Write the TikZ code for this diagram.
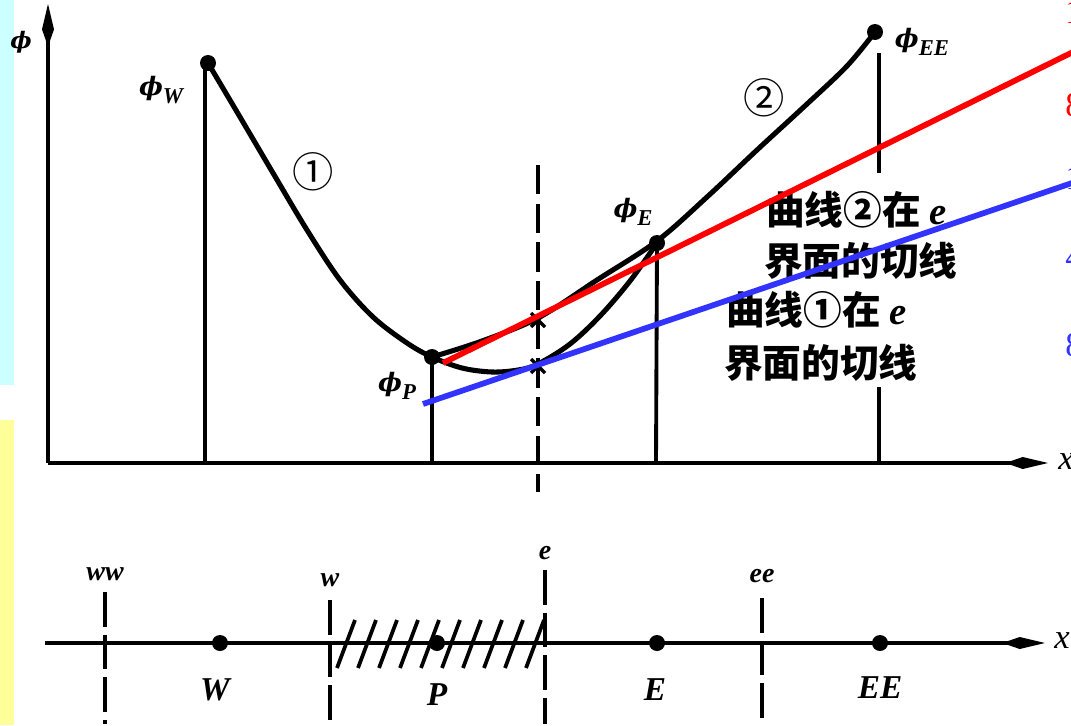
\documentclass[tikz,border=0pt]{standalone}
\usepackage{fontspec}
\setmainfont{Liberation Serif}
\newfontfamily\cjk{Noto Sans CJK SC}
\newfontfamily\phifont{DejaVu Serif}
\usetikzlibrary{arrows.meta}
\definecolor{stripcyan}{RGB}{204,255,255}
\definecolor{stripyellow}{RGB}{255,255,153}
\definecolor{tanred}{RGB}{255,0,0}
\definecolor{tanblue}{RGB}{51,51,255}
\newcommand{\phiLab}[1]{{\phifont\bfseries\itshape ϕ}\raisebox{-0.3em}{\fontsize{17}{17}\selectfont\bfseries\itshape #1}}
\tikzset{
  curve/.style={line width=3.8pt, line cap=round, line join=round},
  stem/.style={line width=2.9pt},
  axisarrow/.style={line width=3pt, -{Kite[length=32pt,width=9pt,inset=13pt]}},
  gridline/.style={line width=2.8pt, dash pattern=on 26pt off 6pt},
  dot/.style={circle, fill=black, inner sep=0pt, minimum size=12pt},
  philabel/.style={font=\fontsize{19}{19}\selectfont, inner sep=0pt},
  ptlabel/.style={font=\fontsize{25}{25}\selectfont\bfseries\itshape, inner sep=0pt},
  facelabel/.style={font=\fontsize{21}{21}\selectfont\bfseries\itshape, inner sep=0pt},
  circnum/.style={font=\cjk\fontsize{31}{31}\selectfont, inner sep=0pt},
  cjktext/.style={font=\cjk\bfseries\fontsize{29}{29}\selectfont, inner sep=0pt, anchor=west},
  tangent/.style={line width=4.3pt},
  edgeglyph/.style={font=\fontsize{26}{26}\selectfont, inner sep=0pt, anchor=west},
}
\begin{document}
\begin{tikzpicture}[x=0.75pt,y=-0.75pt]
\useasboundingbox (0,0) rectangle (1071,725);
\clip (0,0) rectangle (1071,725);
\fill[white] (0,0) rectangle (1071,725);
\fill[stripcyan] (0,0) rectangle (14,385);
\fill[stripyellow] (0,420) rectangle (14,725);

% ---------- upper plot ----------
\coordinate (O) at (48,463);
\coordinate (ytip) at (48,4);
\coordinate (xtip) at (1048,463);
\draw[axisarrow] (O) -- (ytip);
\draw[axisarrow] (O) -- (xtip);
\node[font=\fontsize{17}{17}\selectfont\phifont\bfseries\itshape, inner sep=0pt] (ylab) at (21,42) {ϕ};
\node[font=\fontsize{26}{26}\selectfont\itshape, inner sep=0pt] (xlab) at (1066,462) {x};

\node[dot] (pW) at (208,63) {};
\node[dot] (pP) at (432,357) {};
\node[dot] (pE) at (657,243) {};
\node[dot] (pEE) at (875,32) {};

\coordinate (bW) at (205,463);
\coordinate (bP) at (432,463);
\coordinate (bE) at (656,463);
\coordinate (bEE) at (879,463);
\coordinate (tEE1) at (879,53);
\coordinate (tEE2) at (879,173);
\coordinate (tEE3) at (879,387);
\draw[stem] (205,63) -- (bW);
\draw[stem] (pP.center) -- (bP);
\draw[stem] (pE.center) -- (bE);
\draw[stem] (tEE1) -- (tEE2);
\draw[stem] (tEE3) -- (bEE);

% curve 1
\draw[curve] plot[smooth, tension=0.55] coordinates {(208,63) (240,117) (273,173) (307,230) (340,280) (373,317) (407,343) (432,357) (462,368) (492,372) (518,370) (538,364) (570,344) (600,316) (630,281) (657,243)};
% curve 2
\draw[curve] plot[smooth, tension=0.55] coordinates {(432,357) (482,341) (538,318) (597,280) (657,241) (707,197) (757,150) (807,104) (847,66) (875,32)};

\node[circnum] (n1) at (313,172) {①};
\node[circnum] (n2) at (764,98) {②};

\node[philabel] (lW) at (161,90) {\phiLab{W}};
\node[philabel] (lP) at (397,386) {\phiLab{P}};
\node[philabel] (lE) at (633,212) {\phiLab{E}};
\node[philabel] (lEE) at (922,42) {\phiLab{EE}};

% dashed face e
\coordinate (etop) at (538,165);
\coordinate (ebot) at (538,492);
\draw[line width=2.8pt, dash pattern=on 22pt off 7pt] (etop) -- (ebot);
\coordinate (c1) at (538,320);
\coordinate (c2) at (538,366);
\draw[line width=2.4pt] ([shift={(-7,-7)}]c1) -- ([shift={(7,7)}]c1) ([shift={(-7,7)}]c1) -- ([shift={(7,-7)}]c1);
\draw[line width=2.4pt] ([shift={(-7,-7)}]c2) -- ([shift={(7,7)}]c2) ([shift={(-7,7)}]c2) -- ([shift={(7,-7)}]c2);

% Chinese labels
\node[cjktext] (t1) at (766,210) {曲线②在 {\rmfamily\itshape\bfseries e}};
\node[cjktext] (t2) at (764,261) {界面的切线};
\node[cjktext] (t3) at (726,310) {曲线①在 {\rmfamily\itshape\bfseries e}};
\node[cjktext] (t4) at (724,363) {界面的切线};

% tangents
\coordinate (rA) at (443,363);
\coordinate (rB) at (1075,51);
\coordinate (bA) at (423,404);
\coordinate (bB) at (1075,182);
\draw[tangent, tanred] (rA) -- (rB);
\draw[tangent, tanblue] (bA) -- (bB);

% clipped glyphs at right edge
\node[edgeglyph, text=tanred] (g1) at (1065,12) {1};
\node[edgeglyph, text=tanred] (g2) at (1065,105) {8};
\node[edgeglyph, text=tanblue] (g3) at (1065,178) {1};
\node[edgeglyph, text=tanblue] (g4) at (1065,257) {4};
\node[edgeglyph, text=tanblue] (g5) at (1065,345) {8};

% ---------- lower axis ----------
\coordinate (L0) at (45,643);
\coordinate (Ltip) at (1045,643);
\draw[axisarrow] (L0) -- (Ltip);
\node[font=\fontsize{26}{26}\selectfont\itshape, inner sep=0pt] (xlab2) at (1062,641) {x};

\node[dot] (nW) at (220,643) {};
\node[dot] (nP) at (437,643) {};
\node[dot] (nE) at (657,643) {};
\node[dot] (nEE) at (880,643) {};
\node[ptlabel] (lbW) at (215,690) {W};
\node[ptlabel] (lbP) at (437,695) {P};
\node[ptlabel] (lbE) at (655,690) {E};
\node[ptlabel] (lbEE) at (880,688) {EE};

\node[facelabel] (fww) at (105,574) {ww};
\node[facelabel] (fw) at (330,580) {w};
\node[facelabel] (fe) at (545,553) {e};
\node[facelabel] (fee) at (762,576) {ee};
\draw[gridline] (105,592) -- (105,724);
\draw[gridline] (330,600) -- (330,724);
\draw[gridline] (545,570) -- (545,724);
\draw[gridline] (762,598) -- (762,724);

\foreach \i in {0,...,9}
  \draw[line width=2.8pt] (337+21*\i,668) -- (355+21*\i,620);
\end{tikzpicture}
\end{document}
